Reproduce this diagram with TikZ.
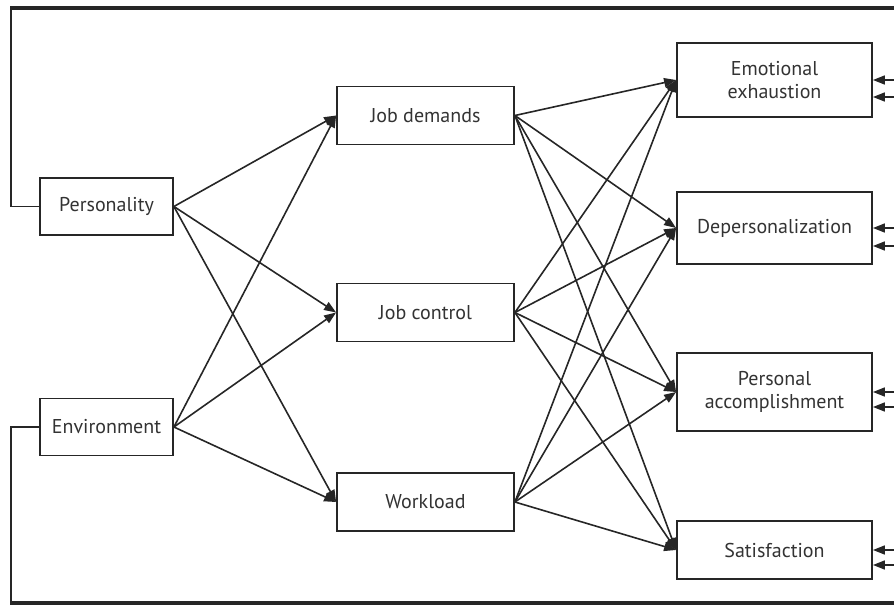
\documentclass[tikz,border=0pt]{standalone}
\usepackage{fontspec}
\setmainfont{PT Sans}
\usetikzlibrary{arrows.meta}
\begin{document}
\begin{tikzpicture}[x=1pt,y=-1pt,
  box/.style={draw=black!85, line width=1.8pt, fill=white, inner sep=0pt, align=center,
    font=\fontsize{20}{23}\selectfont, text=black!80},
  inbox/.style={box, minimum width=133pt, minimum height=57pt},
  midbox/.style={box, minimum width=177pt, minimum height=58pt},
  outbox/.style={box, minimum width=195pt},
  arr/.style={line width=1.6pt, draw=black!85, -{Triangle[length=12pt,width=9pt]}},
  fb/.style={line width=1.8pt, draw=black!85},
  fbthick/.style={line width=3.6pt, draw=black!85}]
\useasboundingbox (0,0) rectangle (894,608);

% input boxes
\node[inbox] (pers) at (106.5,206.5) {Personality};
\node[inbox] (env) at (106.5,427) {Environment};
% middle boxes
\node[midbox] (jd) at (425.5,115.5) {Job demands};
\node[midbox] (jc) at (425.5,312.5) {Job control};
\node[midbox] (wl) at (425.5,502) {Workload};
% output boxes
\node[outbox, minimum height=74pt] (ee) at (774.5,80) {Emotional\\exhaustion};
\node[outbox, minimum height=72pt] (dp) at (774.5,228) {Depersonalization};
\node[outbox, minimum height=78pt] (pa) at (774.5,392) {Personal\\accomplishment};
\node[outbox, minimum height=58pt] (sat) at (774.5,550) {Satisfaction};

% arrows left -> middle
\foreach \s in {pers,env}
  \foreach \t in {jd,jc,wl}
    \draw[arr] (\s.east) -- (\t.west);
% arrows middle -> right
\foreach \s in {jd,jc,wl}
  \foreach \t in {ee,dp,pa,sat}
    \draw[arr] (\s.east) -- (\t.west);

% short arrows from the right edge
\coordinate (ee1) at (894,80);  \coordinate (ee2) at (894,97);
\coordinate (dp1) at (894,228); \coordinate (dp2) at (894,246);
\coordinate (pa1) at (894,392); \coordinate (pa2) at (894,407);
\coordinate (sa1) at (894,550); \coordinate (sa2) at (894,565);
\draw[arr] (ee1) -- (ee1 -| ee.east);
\draw[arr] (ee2) -- (ee2 -| ee.east);
\draw[arr] (dp1) -- (dp1 -| dp.east);
\draw[arr] (dp2) -- (dp2 -| dp.east);
\draw[arr] (pa1) -- (pa1 -| pa.east);
\draw[arr] (pa2) -- (pa2 -| pa.east);
\draw[arr] (sa1) -- (sa1 -| sat.east);
\draw[arr] (sa2) -- (sa2 -| sat.east);

% feedback lines
\coordinate (tl) at (11,8);   \coordinate (tr) at (894,8);
\coordinate (bl) at (11,603); \coordinate (br) at (894,603);
\draw[fb] (pers.west) -| (tl);
\draw[fb] (env.west) -| (bl);
\draw[fbthick] ([xshift=-0.9pt]tl) -- (tr);
\draw[fbthick] ([xshift=-0.9pt]bl) -- (br);
\end{tikzpicture}
\end{document}
